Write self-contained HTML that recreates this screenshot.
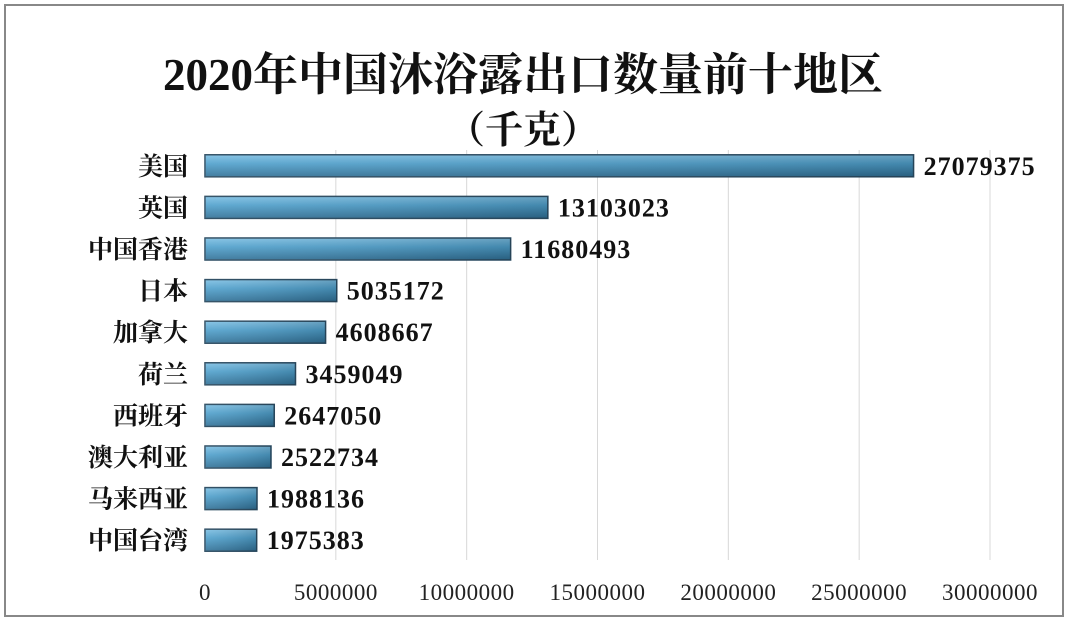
<!DOCTYPE html>
<html><head><meta charset="utf-8"><style>
body{margin:0;background:#fff;}
svg text{font-family:"Liberation Serif","Noto Serif CJK SC",serif;}
</style></head><body>
<svg width="1080" height="636" xmlns="http://www.w3.org/2000/svg">
<defs>
<linearGradient id="bg" x1="0" y1="0" x2="0" y2="1">
<stop offset="0" stop-color="#7dbfe3"/><stop offset="0.4" stop-color="#4fa0cc"/><stop offset="1" stop-color="#2f6f95"/>
</linearGradient>
<linearGradient id="bh" x1="0" y1="0" x2="1" y2="0">
<stop offset="0" stop-color="#fff" stop-opacity="0.1"/><stop offset="1" stop-color="#000" stop-opacity="0.15"/>
</linearGradient>
</defs>
<rect x="5" y="5" width="1058" height="611" fill="#fff" stroke="#888" stroke-width="2"/>
<text x="523" y="90" text-anchor="middle" font-size="45" font-weight="bold" fill="#111">2020年中国沐浴露出口数量前十地区</text>
<text x="523" y="143" text-anchor="middle" font-size="38" font-weight="bold" fill="#111">（千克）</text>
<g id="grid"></g><g id="bars"></g><g id="labels"></g>
</svg>
<script>
const categories=["美国","英国","中国香港","日本","加拿大","荷兰","西班牙","澳大利亚","马来西亚","中国台湾"];
const values=[27079375,13103023,11680493,5035172,4608667,3459049,2647050,2522734,1988136,1975383];
const ticks=[0,5000000,10000000,15000000,20000000,25000000,30000000];
const tickLabels=["0","5000000","10000000","15000000","20000000","25000000","30000000"];
const NS="http://www.w3.org/2000/svg";
const x0=205,x1=990,xmax=30000000,yTop=145,rowH=41.6,barH=22;
const xs=v=>x0+(x1-x0)*v/xmax;
const yc=i=>yTop+rowH*(i+0.5);
function mk(tag,attrs,parent,txt){const e=document.createElementNS(NS,tag);for(const k in attrs)e.setAttribute(k,attrs[k]);if(txt!==undefined)e.textContent=txt;document.getElementById(parent).appendChild(e);return e;}
ticks.forEach((t,i)=>{
 if(i>0){const l=mk('line',{x1:xs(t),x2:xs(t),y1:150,y2:560,stroke:'#d8d8d8','stroke-width':1},'grid');
 
 }
 const tx=mk('text',{x:xs(t),y:600,'text-anchor':'middle','font-size':23,'letter-spacing':0.5,'font-family':'Liberation Sans, sans-serif',fill:'#222'},'labels',tickLabels[i]);
 
 
});
categories.forEach((c,i)=>{
 const y=yc(i);
 const r=mk('rect',{x:x0,y:y-barH/2,width:xs(values[i])-x0,height:barH,fill:'url(#bg)',stroke:'#2a4a60','stroke-width':1.5},'bars');
 
 
 mk('rect',{x:x0,y:y-barH/2,width:xs(values[i])-x0,height:barH,fill:'url(#bh)'},'bars');
 const cl=mk('text',{x:188,y:y+9,'text-anchor':'end','font-size':25,'font-weight':'bold',fill:'#111','font-family':'Noto Sans CJK SC, sans-serif'},'labels',c);
 
 
 const vl=mk('text',{x:xs(values[i])+10,y:y+9,'font-size':26,'letter-spacing':1,'font-weight':'bold',fill:'#111'},'labels',values[i]);
 
 
});
</script>
</body></html>
